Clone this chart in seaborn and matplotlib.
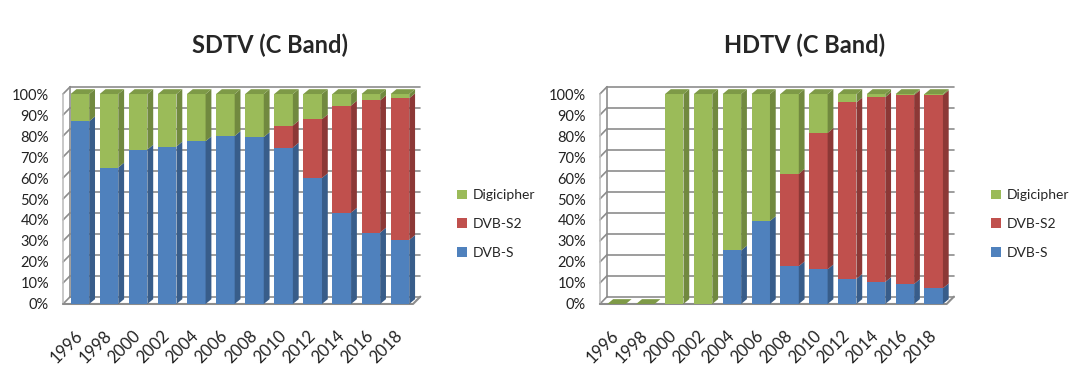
import matplotlib
matplotlib.use("Agg")
import pandas as pd
import matplotlib.pyplot as plt
import seaborn as sns
from matplotlib.patches import Polygon, Patch

# data (percent share per year)
years = ["1996", "1998", "2000", "2002", "2004", "2006",
         "2008", "2010", "2012", "2014", "2016", "2018"]

sd_dvbs = [87, 65, 73.5, 75, 77.5, 80, 79.5, 74.5, 60, 43.5, 34, 30.5]
sd_dvbs2 = [0, 0, 0, 0, 0, 0, 0, 10.5, 28, 51, 63, 67.5]
sd_digi = [13, 35, 26.5, 25, 22.5, 20, 20.5, 15, 12, 5.5, 3, 2]

hd_dvbs = [0, 0, 0, 0, 25.5, 39.5, 18, 16.5, 12, 10.5, 9.5, 7.5]
hd_dvbs2 = [0, 0, 0, 0, 0, 0, 44, 65, 84, 88, 90, 92]
hd_digi = [0, 0, 100, 100, 74.5, 60.5, 38, 18.5, 4, 1.5, 0.5, 0.5]

series = ["DVB-S", "DVB-S2", "Digicipher"]
front = {"DVB-S": "#4F81BD", "DVB-S2": "#C0504D", "Digicipher": "#9BBB59"}
side = {"DVB-S": "#385D8A", "DVB-S2": "#8C3836", "Digicipher": "#71893F"}
top = {"DVB-S": "#44709F", "DVB-S2": "#A54341", "Digicipher": "#7E9A47"}

FONT = "Lato"
bw = 0.64          # bar front width
dx, dy = 0.2, 2.3  # bar depth
wx, wy = 0.25, 3.5 # back wall offset
x0, x1 = -0.58, 11.45
grid_c = "#8C8C8C"


def draw_panel(ax, dvbs, dvbs2, digi):
    df = pd.DataFrame({"year": years, "DVB-S": dvbs, "DVB-S2": dvbs2, "Digicipher": digi})
    df["s1"] = df["DVB-S"]
    df["s2"] = df["s1"] + df["DVB-S2"]
    df["s3"] = df["s2"] + df["Digicipher"]

    # back wall grid, floor and left wall
    for v in range(0, 101, 10):
        ax.plot([x0 + wx, x1 + wx], [v + wy, v + wy], color=grid_c, lw=1.2, zorder=1, clip_on=False)
        ax.plot([x0, x0 + wx], [v, v + wy], color=grid_c, lw=1.2, zorder=1, clip_on=False)
    ax.plot([x0, x0], [0, 100], color="#BFBFBF", lw=1.2, zorder=1, clip_on=False)
    ax.plot([x0 + wx, x0 + wx], [wy, 100 + wy], color=grid_c, lw=1.2, zorder=1, clip_on=False)
    ax.plot([x0, x1, x1 + wx], [0, 0, wy], color=grid_c, lw=1.5, zorder=1, clip_on=False)

    # stacked fronts: tallest first, lower series painted over it
    for col, name in [("s3", "Digicipher"), ("s2", "DVB-S2"), ("s1", "DVB-S")]:
        sns.barplot(data=df, x="year", y=col, color=front[name], width=bw,
                    saturation=1, linewidth=0, errorbar=None, ax=ax, zorder=3)

    # 3d side and top faces
    for i in range(len(years)):
        r = i + bw / 2
        b = 0
        last = "Digicipher"
        for name in series:
            h = df[name][i]
            if h > 0:
                ax.add_patch(Polygon([(r, b), (r + dx, b + dy), (r + dx, b + h + dy), (r, b + h)],
                                     closed=True, facecolor=side[name], lw=0, zorder=3, clip_on=False))
                last = name
            b += h
        if b == 0:
            last = "Digicipher"
        ax.add_patch(Polygon([(i - bw / 2, b), (r, b), (r + dx, b + dy), (i - bw / 2 + dx, b + dy)],
                             closed=True, facecolor=top[last], lw=0, zorder=4, clip_on=False))

    ax.set_xlim(x0, x1)
    ax.set_ylim(0, 100)
    ax.set_yticks(range(0, 101, 10))
    ax.set_yticklabels([f"{v}%" for v in range(0, 101, 10)], fontsize=10.5, family=FONT, color="#222222")
    ax.set_xticks(range(len(years)))
    ax.set_xticklabels(years, rotation=45, ha="right", va="center", rotation_mode="anchor",
                       fontsize=12, family=FONT, color="#222222")
    ax.tick_params(axis="both", length=0)
    ax.tick_params(axis="y", pad=10)
    ax.tick_params(axis="x", pad=21)
    ax.set_xlabel("")
    ax.set_ylabel("")
    for s in ax.spines.values():
        s.set_visible(False)
    ax.set_facecolor("none")


sns.set_style("white")
fig = plt.figure(figsize=(10.77, 3.69), dpi=100)
ax1 = fig.add_axes([0.0585, 0.1762, 0.325, 0.569])
ax2 = fig.add_axes([0.557, 0.1762, 0.322, 0.569])

draw_panel(ax1, sd_dvbs, sd_dvbs2, sd_digi)
draw_panel(ax2, hd_dvbs, hd_dvbs2, hd_digi)

fig.text(0.2507, 0.878, "SDTV (C Band)", ha="center", va="center", fontsize=17,
         fontweight="bold", family=FONT)
fig.text(0.7475, 0.878, "HDTV (C Band)", ha="center", va="center", fontsize=17,
         fontweight="bold", family=FONT)

handles = [Patch(facecolor=front[n], edgecolor="none", label=n) for n in ["Digicipher", "DVB-S2", "DVB-S"]]
for xpos in [0.413, 0.909]:
    fig.legend(handles=handles, loc="center left", bbox_to_anchor=(xpos, 0.393), frameon=False,
               handlelength=0.7, handleheight=0.7, handletextpad=0.4, labelspacing=1.2,
               prop={"family": FONT, "size": 10})

fig.savefig("out.png", dpi=100)
